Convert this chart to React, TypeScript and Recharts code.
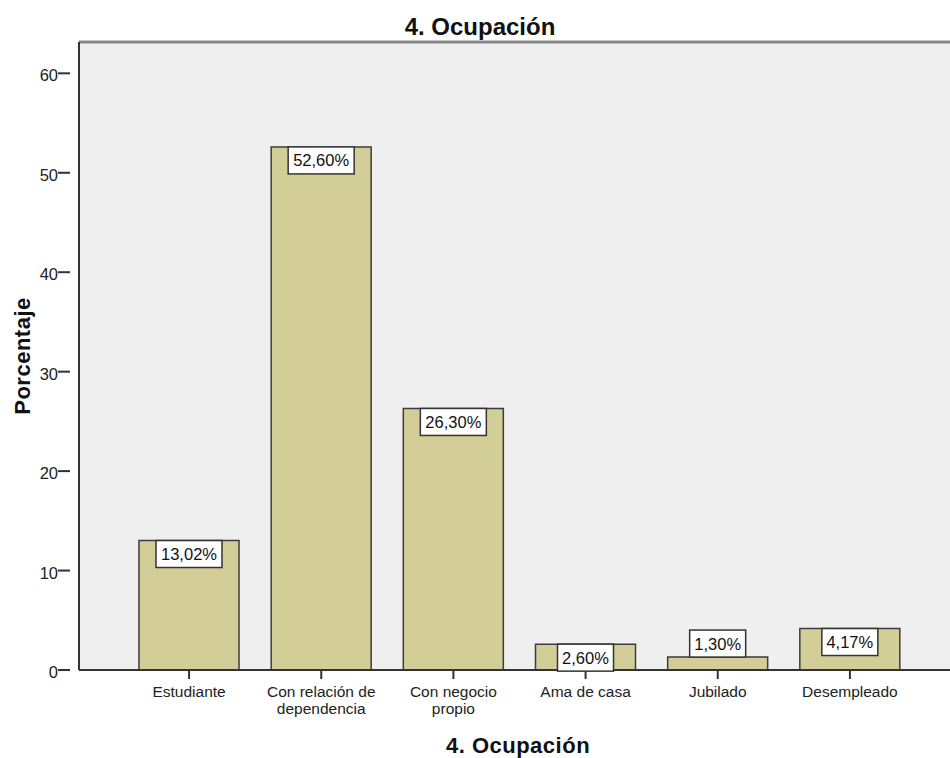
import React from "react";
import { BarChart, Bar, XAxis, YAxis, CartesianGrid, LabelList, ReferenceLine } from "recharts";

const categories = ["Estudiante", "Con relación de\ndependencia", "Con negocio\npropio", "Ama de casa", "Jubilado", "Desempleado"];
const values = [13.02, 52.6, 26.3, 2.6, 1.3, 4.17];
const valueLabels = ["13,02%", "52,60%", "26,30%", "2,60%", "1,30%", "4,17%"];
const yTicks = [0, 10, 20, 30, 40, 50, 60];

const data = categories.map((c, i) => ({ name: c, value: values[i], label: valueLabels[i] }));

const FONT = "'Liberation Sans', Arial, sans-serif";

const XTick = (props: any) => {
  const { x, y, payload } = props;
  const lines = String(payload.value).split("\n");
  return (
    <g>
      <line x1={x} y1={y - 8} x2={x} y2={y + 1} stroke="#333" strokeWidth={2} />
      <text x={x} y={y + 19} textAnchor="middle" fontSize={15.5} fontFamily={FONT} fill="#222">
        {lines.map((l: string, i: number) => (
          <tspan key={i} x={x} dy={i === 0 ? 0 : 16.5}>
            {l}
          </tspan>
        ))}
      </text>
    </g>
  );
};

const YTick = (props: any) => {
  const { x, y, payload } = props;
  return (
    <g>
      <line x1={x - 13} y1={y} x2={x - 1} y2={y} stroke="#333" strokeWidth={2} />
      <text x={x - 13} y={y + 8} textAnchor="end" fontSize={16.5} fontFamily={FONT} fill="#222">
        {payload.value}
      </text>
    </g>
  );
};

const BoxLabel = (props: any) => {
  const { x, y, width, height, index } = props;
  const txt = valueLabels[index];
  const bw = txt.length * 10 + 6;
  const bh = 27;
  const cx = x + width / 2;
  const top = height >= 20 ? y : y - bh;
  return (
    <g>
      <rect x={cx - bw / 2} y={top} width={bw} height={bh} fill="#ffffff" stroke="#333" strokeWidth={1.5} />
      <text x={cx} y={top + bh / 2 + 6} textAnchor="middle" fontSize={16.5} fontFamily={FONT} fill="#111">
        {txt}
      </text>
    </g>
  );
};

export default function App() {
  return (
    <div style={{ position: "absolute", left: 0, top: 0, width: 950, height: 758, background: "#fff" }}>
      <div style={{ position: "absolute", left: 0, top: 0 }}>
        <BarChart width={950} height={758} data={data} margin={{ top: 42, right: 0, bottom: 0, left: 0 }}>
          <CartesianGrid horizontal={false} vertical={false} fill="#efefef" />
          <XAxis
            dataKey="name"
            interval={0}
            tick={<XTick />}
            tickLine={false}
            axisLine={{ stroke: "#333", strokeWidth: 2 }}
            padding={{ left: 44, right: 34 }}
            height={88}
          />
          <YAxis
            domain={[0, 63.15]}
            ticks={yTicks}
            width={79}
            tick={<YTick />}
            tickLine={false}
            axisLine={{ stroke: "#333", strokeWidth: 2 }}
          />
          <ReferenceLine y={63.15} stroke="#888" strokeWidth={3} />
          <Bar dataKey="value" fill="#d3ce97" stroke="#3c3c3c" strokeWidth={1.5} barSize={100} isAnimationActive={false}>
            <LabelList dataKey="value" content={<BoxLabel />} />
          </Bar>
        </BarChart>
      </div>
      <svg width={950} height={758} style={{ position: "absolute", left: 0, top: 0, pointerEvents: "none" }}>
        <text x={480} y={35} textAnchor="middle" fontSize={24} fontWeight="bold" fontFamily={FONT} fill="#111">
          4. Ocupación
        </text>
        <text x={518} y={753} textAnchor="middle" fontSize={22} fontWeight="bold" fontFamily={FONT} fill="#111" letterSpacing={0.5}>
          4. Ocupación
        </text>
        <text
          x={30}
          y={356}
          textAnchor="middle"
          fontSize={22}
          fontWeight="bold"
          fontFamily={FONT}
          fill="#111"
          letterSpacing={0.5}
          transform="rotate(-90 30 356)"
        >
          Porcentaje
        </text>
      </svg>
    </div>
  );
}
